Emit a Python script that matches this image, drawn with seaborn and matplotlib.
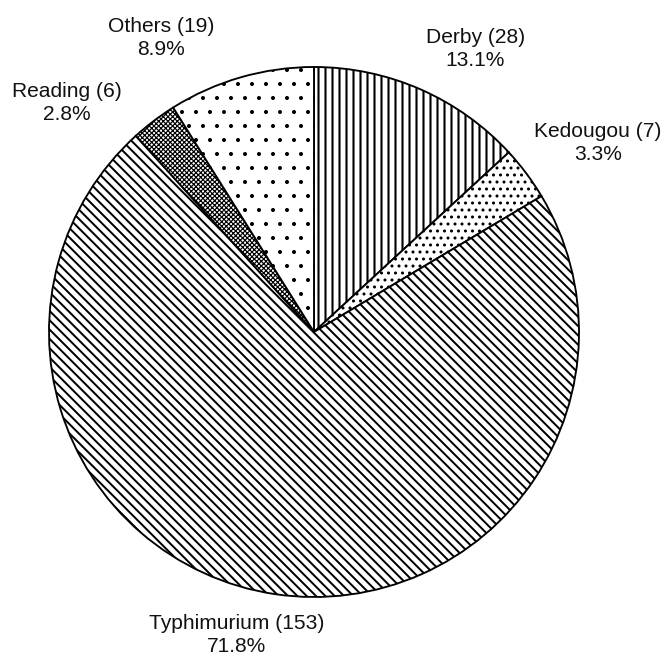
import matplotlib
matplotlib.use("Agg")
import matplotlib.pyplot as plt
import seaborn as sns

# Serovar counts
serovars = ["Derby", "Kedougou", "Typhimurium", "Reading", "Others"]
counts = [28, 7, 153, 6, 19]
hatches = ["||", "..", "\\\\\\", "xxxxxx", "."]
hatch_lw = [1.8, 1.4, 1.7, 1.0, 1.0]

# label centres, in units of the pie radius
label_pos = [(0.608, 1.068), (1.072, 0.713), (-0.291, -1.143), (-0.932, 0.864), (-0.577, 1.109)]

sns.set_theme(style="white")
plt.rcParams['font.family'] = ['Liberation Sans', 'DejaVu Sans']
plt.rcParams['hatch.color'] = 'black'

DPI = 84
fig = plt.figure(figsize=(667 / DPI, 657 / DPI), dpi=DPI)
ax = fig.add_axes([0, 0, 1, 1])

wedges, _ = ax.pie(counts, startangle=90, counterclock=False,
                   colors=["white"] * len(counts),
                   wedgeprops=dict(edgecolor="black", linewidth=1.6))
for w, h, lw in zip(wedges, hatches, hatch_lw):
    w.set_hatch(h)
    if hasattr(w, "set_hatch_linewidth"):
        w.set_hatch_linewidth(lw)

total = sum(counts)
for name, c, (x, y) in zip(serovars, counts, label_pos):
    ax.text(x, y, "%s (%d)\n%.1f%%" % (name, c, 100.0 * c / total),
            ha="center", va="center", multialignment="center",
            fontsize=18, linespacing=1.25, color="#111111")

# place the pie centre at (314, 332) px with a 265 px radius
R = 265.0
ax.set_aspect("auto")
ax.set_xlim(-314 / R, (667 - 314) / R)
ax.set_ylim(-(657 - 332) / R, 332 / R)
ax.axis("off")

fig.savefig("out.png", dpi=DPI, facecolor="white")
